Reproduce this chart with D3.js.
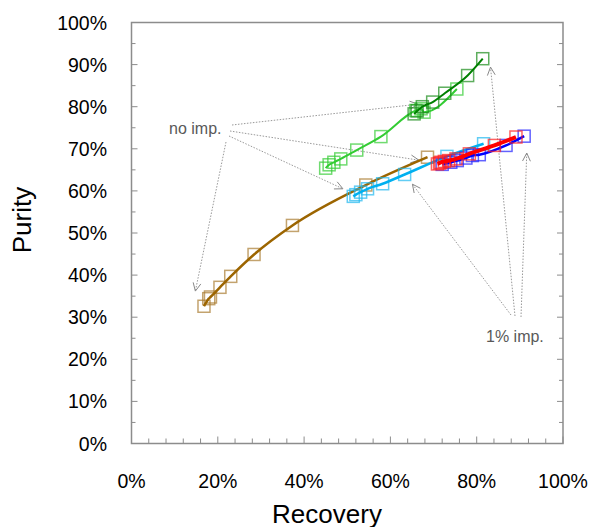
<!doctype html>
<html>
  <head>
    <script src="https://d3js.org/d3.v7.min.js"></script>
    <style>
      body { margin: 0; background: #fff; }
      text { font-family: "Liberation Sans", Arial, sans-serif; }
    </style>
  </head>
  <body>
    <script>
      // ---- data (recovery %, purity %) ----
      var brownX = [16.8, 17.9, 18.3, 20.5, 23.0, 28.4, 37.3, 54.3, 68.6];
      var brownY = [32.6, 34.4, 34.8, 37.1, 39.7, 44.9, 51.8, 61.4, 68.0];

      var cyanX = [51.4, 52.0, 53.1, 54.7, 58.2, 63.3, 73.1, 81.6];
      var cyanY = [58.7, 59.1, 59.7, 60.5, 61.7, 63.9, 68.2, 71.2];

      var greenX = [45.0, 45.8, 46.9, 48.5, 52.2, 57.8, 65.9, 67.1, 67.8, 75.4];
      var greenY = [65.4, 66.2, 66.8, 67.6, 69.7, 72.9, 79.1, 79.5, 78.7, 84.2];

      var dkgreenX = [65.5, 66.2, 67.4, 69.8, 72.6, 77.9, 81.4];
      var dkgreenY = [78.3, 79.0, 80.0, 81.1, 83.2, 87.4, 91.4];

      var blueX = [72.0, 74.0, 75.5, 77.5, 79.0, 80.6, 86.8, 91.0];
      var blueY = [66.3, 66.8, 67.2, 67.8, 68.4, 68.6, 70.8, 73.0];

      var redX = [70.9, 71.4, 71.7, 72.5, 73.5, 75.2, 78.3, 84.1, 89.1];
      var redY = [66.4, 66.6, 66.8, 67.0, 67.2, 67.6, 68.8, 70.8, 72.8];

      var xTicks = [0, 20, 40, 60, 80, 100];
      var yTicks = [0, 10, 20, 30, 40, 50, 60, 70, 80, 90, 100];

      // annotation targets (recovery %, purity %)
      var noImpTargets = [[66.4, 80.6], [66.6, 67.3], [49.0, 60.5], [14.8, 36.2]];
      var oneImpTargets = [[83.2, 89.4], [91.6, 69.0], [65.1, 61.6]];

      var W = 591, H = 527;
      var pL = 131.5, pR = 563, pT = 22.5, pB = 443.5;

      var x = d3.scaleLinear().domain([0, 100]).range([pL, pR]);
      var y = d3.scaleLinear().domain([0, 100]).range([pB, pT]);

      var svg = d3.select('body').append('svg')
        .attr('width', W).attr('height', H);

      // ---- frame and ticks ----
      var axisCol = '#8c8c8c';
      svg.append('path')
        .attr('d', 'M' + pL + ',' + pB + 'V' + pT + 'H' + pR + 'V' + pB + 'Z')
        .attr('fill', 'none').attr('stroke', axisCol).attr('stroke-width', 1.5);

      var minorY = d3.range(0, 101, 5);
      svg.append('g').selectAll('line').data(minorY).enter().append('line')
        .attr('x1', pL).attr('x2', function(d){ return pL + (d % 10 === 0 ? 6 : 4); })
        .attr('y1', function(d){ return y(d); }).attr('y2', function(d){ return y(d); })
        .attr('stroke', axisCol).attr('stroke-width', 1);
      svg.append('g').selectAll('line').data(minorY).enter().append('line')
        .attr('x1', pR).attr('x2', function(d){ return pR - (d % 10 === 0 ? 6 : 4); })
        .attr('y1', function(d){ return y(d); }).attr('y2', function(d){ return y(d); })
        .attr('stroke', axisCol).attr('stroke-width', 1);
      var minorX = d3.range(0, 101, 4);
      svg.append('g').selectAll('line').data(minorX).enter().append('line')
        .attr('x1', function(d){ return x(d); }).attr('x2', function(d){ return x(d); })
        .attr('y1', pB).attr('y2', function(d){ return pB - (d % 20 === 0 ? 7 : 5); })
        .attr('stroke', axisCol).attr('stroke-width', 1);

      svg.append('g').selectAll('text').data(yTicks).enter().append('text')
        .attr('x', 107).attr('y', function(d){ return y(d) + 7; })
        .attr('text-anchor', 'end').attr('font-size', 19.5).attr('fill', '#000')
        .text(function(d){ return d + '%'; });
      svg.append('g').selectAll('text').data(xTicks).enter().append('text')
        .attr('x', function(d){ return x(d); }).attr('y', 488)
        .attr('text-anchor', 'middle').attr('font-size', 19.5).attr('fill', '#000')
        .text(function(d){ return d + '%'; });

      svg.append('text').attr('x', 327).attr('y', 523)
        .attr('text-anchor', 'middle').attr('font-size', 26).text('Recovery');
      svg.append('text').attr('transform', 'translate(31,220) rotate(-90)')
        .attr('text-anchor', 'middle').attr('font-size', 26).text('Purity');

      // ---- annotations ----
      var annCol = '#999';
      function arrow(x1, y1, x2, y2) {
        svg.append('line').attr('x1', x1).attr('y1', y1).attr('x2', x2).attr('y2', y2)
          .attr('stroke', annCol).attr('stroke-width', 1).attr('stroke-dasharray', '1.5,1.5');
        var a = Math.atan2(y2 - y1, x2 - x1), L = 9, w = 0.45;
        svg.append('path')
          .attr('d', 'M' + (x2 - L*Math.cos(a - w)) + ',' + (y2 - L*Math.sin(a - w)) +
                     'L' + x2 + ',' + y2 +
                     'L' + (x2 - L*Math.cos(a + w)) + ',' + (y2 - L*Math.sin(a + w)))
          .attr('fill', 'none').attr('stroke', '#888').attr('stroke-width', 1);
      }
      var noStarts = [[232, 125], [230, 131], [229, 136], [226, 142]];
      noImpTargets.forEach(function(t, i){ arrow(noStarts[i][0], noStarts[i][1], x(t[0]), y(t[1])); });
      var oneStarts = [[515, 316], [521, 317], [511, 315]];
      oneImpTargets.forEach(function(t, i){ arrow(oneStarts[i][0], oneStarts[i][1], x(t[0]), y(t[1])); });

      svg.append('text').attr('x', 169).attr('y', 134).attr('font-size', 16).attr('fill', '#595959').text('no imp.');
      svg.append('text').attr('x', 486).attr('y', 342).attr('font-size', 16).attr('fill', '#595959').text('1% imp.');

      // ---- series ----
      var series = [
        { xs: brownX,   ys: brownY,   line: '#9c6500', mark: '#a97c30', lw: 2.5 },
        { xs: cyanX,    ys: cyanY,    line: '#00b0f0', mark: '#20b8f0', lw: 2.5 },
        { xs: greenX,   ys: greenY,   line: '#33cc33', mark: '#33cc33', lw: 2 },
        { xs: dkgreenX, ys: dkgreenY, line: '#008000', mark: '#1a8c1a', lw: 2 },
        { xs: blueX,    ys: blueY,    line: '#0000ff', mark: '#2020ff', lw: 2.5 },
        { xs: redX,     ys: redY,     line: '#ff0000', mark: '#ff2020', lw: 4 }
      ];
      var lineGen = d3.line().x(function(d){ return x(d[0]); }).y(function(d){ return y(d[1]); })
        .curve(d3.curveMonotoneX);
      var s = 12;

      series.forEach(function(sr){
        var pts = sr.xs.map(function(v, i){ return [v, sr.ys[i]]; });
        var g = svg.append('g');
        g.selectAll('rect').data(pts).enter().append('rect')
          .attr('x', function(d){ return x(d[0]) - s/2; })
          .attr('y', function(d){ return y(d[1]) - s/2; })
          .attr('width', s).attr('height', s)
          .attr('fill', 'none').attr('stroke', sr.mark).attr('stroke-width', 1.5)
          .attr('stroke-opacity', 0.7);
        var sorted = pts.slice().sort(function(a, b){ return a[0] - b[0]; });
        g.append('path').attr('d', lineGen(sorted))
          .attr('fill', 'none').attr('stroke', sr.line).attr('stroke-width', sr.lw);
      });
    </script>
  </body>
</html>
